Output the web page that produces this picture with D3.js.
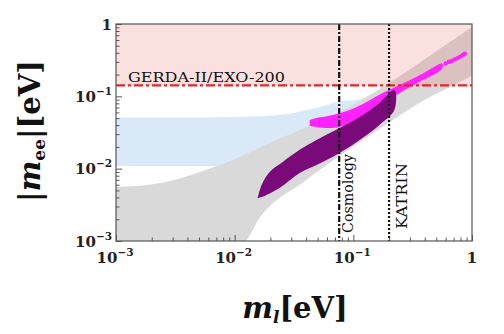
<!DOCTYPE html>
<html>
<head>
<meta charset="utf-8">
<script src="https://cdn.jsdelivr.net/npm/d3@7"></script>
<style>
  body { margin: 0; background: #fff; }
</style>
</head>
<body>
<div id="grafica"></div>
<script>
// ==============================
// datos (m_l [eV], |m_ee| [eV])
// ==============================
const decadas = [1e-3, 1e-2, 1e-1, 1];
const etiquetasDecada = [["10", "−3"], ["10", "−2"], ["10", "−1"], ["1", ""]];

const limiteGerda = 0.142;   // GERDA-II/EXO-200
const mCosmologia = 0.076;
const mKatrin = 0.2;

// banda gris (superior de izquierda a derecha, inferior de derecha a izquierda)
const grisSup = [[0.0007, 0.0056], [0.001, 0.0056], [0.0016, 0.0058], [0.0023, 0.0063], [0.0035, 0.0074],
  [0.0051, 0.009], [0.0075, 0.0112], [0.011, 0.0145], [0.0197, 0.0226], [0.0353, 0.0343],
  [0.0766, 0.0608], [0.166, 0.1265], [0.36, 0.29], [1, 0.91], [1.3, 1.2]];
const grisInf = [[1.3, 0.25], [0.95, 0.185], [0.36, 0.081], [0.176, 0.0378], [0.0929, 0.0187],
  [0.052, 0.0096], [0.0353, 0.006], [0.0226, 0.0037], [0.0169, 0.0023], [0.0139, 0.00133],
  [0.0126, 0.001], [0.012, 0.0008], [0.0007, 0.0008]];

// banda azul
const azulSup = [[0.0007, 0.051], [0.005, 0.051], [0.01, 0.052], [0.02, 0.054], [0.03, 0.058],
  [0.04, 0.064], [0.05, 0.07], [0.065, 0.079], [0.08, 0.086], [0.1, 0.088], [0.15, 0.1],
  [0.3, 0.2], [1, 0.6]];
const azulInf = [[1, 0.3], [0.3, 0.1], [0.1, 0.03], [0.05, 0.018], [0.02, 0.012], [0.012, 0.011],
  [0.0007, 0.011]];

// región morada
const moradoSup = [[0.0156, 0.0039], [0.0169, 0.006], [0.0197, 0.009], [0.0254, 0.0124], [0.0353, 0.0182],
  [0.049, 0.0249], [0.0766, 0.0366], [0.113, 0.052], [0.166, 0.081], [0.222, 0.1225]];
const moradoInf = [[0.222, 0.065], [0.166, 0.0402], [0.113, 0.0249], [0.0766, 0.0165], [0.049, 0.0112],
  [0.0353, 0.0087], [0.0239, 0.0054], [0.0179, 0.0042]];

// región magenta
const magentaSup = [[0.0429, 0.0472], [0.049, 0.0502], [0.0668, 0.0553], [0.0929, 0.0649], [0.129, 0.0838],
  [0.176, 0.111], [0.245, 0.144], [0.34, 0.185], [0.463, 0.247], [0.56, 0.285]];
const magentaInf = [[0.56, 0.24], [0.36, 0.158], [0.245, 0.111], [0.183, 0.081], [0.137, 0.0589],
  [0.102, 0.0457], [0.0766, 0.0378], [0.0573, 0.0366], [0.0429, 0.039]];
const magentaPuntos = [[0.6, 0.285], [0.64, 0.3], [0.68, 0.31], [0.72, 0.325], [0.76, 0.34],
  [0.8, 0.355], [0.84, 0.375], [0.87, 0.39]];

// ==============================
// configuración
// ==============================
const ANCHO = 504, ALTO = 334;
const margen = { izq: 116, der: 32, sup: 24, inf: 93 };
const fuente = "'DejaVu Serif', serif";

const svg = d3.select("#grafica").append("svg")
  .attr("width", ANCHO)
  .attr("height", ALTO)
  .style("background-color", "#fff");

const x = d3.scaleLog().domain([1e-3, 1]).range([margen.izq, ANCHO - margen.der]);
const y = d3.scaleLog().domain([1e-3, 1]).range([ALTO - margen.inf, margen.sup]);

svg.append("defs").append("clipPath").attr("id", "recorte")
  .append("rect")
  .attr("x", x.range()[0]).attr("y", y.range()[1])
  .attr("width", x.range()[1] - x.range()[0])
  .attr("height", y.range()[0] - y.range()[1]);

const g = svg.append("g").attr("clip-path", "url(#recorte)");

const linea = d3.line()
  .x(d => x(d[0])).y(d => y(d[1]))
  .curve(d3.curveCatmullRom.alpha(0.5));
const poligono = (sup, inf) => linea(sup.concat(inf)) + "Z";

// bandas
g.append("path").attr("d", poligono(azulSup, azulInf)).attr("fill", "#d9e9f8");
g.append("path").attr("d", poligono(grisSup, grisInf)).attr("fill", "#d9d9d9");

// región excluida (rosa translúcido)
g.append("rect")
  .attr("x", x(1e-3)).attr("y", y(1))
  .attr("width", x(1) - x(1e-3))
  .attr("height", y(limiteGerda) - y(1))
  .attr("fill", "rgb(235,100,100)")
  .attr("fill-opacity", 0.2);

// puntos
g.append("path").attr("d", poligono(magentaSup, magentaInf)).attr("fill", "#ff22ff");
g.selectAll(".punto").data(magentaPuntos).enter().append("circle")
  .attr("class", "punto")
  .attr("cx", d => x(d[0])).attr("cy", d => y(d[1]))
  .attr("r", 2.2).attr("fill", "#ff22ff");
g.append("path").attr("d", poligono(moradoSup, moradoInf)).attr("fill", "#7a0a7a");

// límites
g.append("line")
  .attr("x1", x(1e-3)).attr("x2", x(1))
  .attr("y1", y(limiteGerda)).attr("y2", y(limiteGerda))
  .attr("stroke", "#e3262b").attr("stroke-width", 2.2)
  .attr("stroke-dasharray", "9,3,3,3");

g.append("line")
  .attr("x1", x(mCosmologia)).attr("x2", x(mCosmologia))
  .attr("y1", y(1)).attr("y2", y(1e-3))
  .attr("stroke", "#111").attr("stroke-width", 2.2)
  .attr("stroke-dasharray", "6,2,2,2");

g.append("line")
  .attr("x1", x(mKatrin)).attr("x2", x(mKatrin))
  .attr("y1", y(1)).attr("y2", y(1e-3))
  .attr("stroke", "#111").attr("stroke-width", 2.2)
  .attr("stroke-dasharray", "2,2");

// textos de los límites
svg.append("text")
  .attr("x", 128).attr("y", y(limiteGerda) - 3.5)
  .attr("font-family", fuente).attr("font-size", 13)
  .attr("textLength", 157).attr("lengthAdjust", "spacingAndGlyphs")
  .attr("fill", "#111")
  .text("GERDA-II/EXO-200");

svg.append("text")
  .attr("transform", `translate(${x(mCosmologia) + 14},${y(1e-3) - 8}) rotate(-90)`)
  .attr("font-family", fuente).attr("font-size", 14)
  .attr("textLength", 79).attr("lengthAdjust", "spacingAndGlyphs")
  .attr("fill", "#111")
  .text("Cosmology");

svg.append("text")
  .attr("transform", `translate(${x(mKatrin) + 18},${y(1e-3) - 12}) rotate(-90)`)
  .attr("font-family", fuente).attr("font-size", 14)
  .attr("textLength", 66).attr("lengthAdjust", "spacingAndGlyphs")
  .attr("fill", "#111")
  .text("KATRIN");

// ==============================
// ejes
// ==============================
const menores = [];
decadas.slice(0, -1).forEach(d => { for (let k = 2; k <= 9; k++) menores.push(d * k); });

const ejeY = svg.append("g").attr("transform", `translate(${margen.izq},0)`);
ejeY.append("g").call(d3.axisLeft(y).tickValues(menores).tickSize(-3.5).tickFormat(""));
ejeY.append("g").call(d3.axisLeft(y).tickValues(decadas).tickSize(-6).tickFormat(""));

const ejeX = svg.append("g").attr("transform", `translate(0,${ALTO - margen.inf})`);
ejeX.append("g").call(d3.axisBottom(x).tickValues(menores).tickSize(-3.5).tickFormat(""));
ejeX.append("g").call(d3.axisBottom(x).tickValues(decadas).tickSize(-6).tickFormat(""));

svg.selectAll(".domain").remove();
svg.selectAll(".tick line").attr("stroke", "#555");

// marco
svg.append("rect")
  .attr("x", x.range()[0]).attr("y", y.range()[1])
  .attr("width", x.range()[1] - x.range()[0])
  .attr("height", y.range()[0] - y.range()[1])
  .attr("fill", "none").attr("stroke", "#555").attr("stroke-width", 1.2);

// etiquetas de las décadas
function etiqueta(sel, par) {
  sel.append("tspan").text(par[0]);
  if (par[1]) sel.append("tspan").attr("dy", -7).attr("font-size", 10.5).text(par[1]);
}

decadas.forEach((d, i) => {
  const t = svg.append("text")
    .attr("x", 112).attr("y", y(d) + 5.5)
    .attr("text-anchor", "end")
    .attr("font-family", fuente).attr("font-weight", "bold").attr("font-size", 15)
    .attr("fill", "#222");
  etiqueta(t, etiquetasDecada[i]);

  const u = svg.append("text")
    .attr("x", x(d) + (etiquetasDecada[i][1] ? -1 : 0)).attr("y", 263)
    .attr("text-anchor", "middle")
    .attr("font-family", fuente).attr("font-weight", "bold").attr("font-size", 15)
    .attr("fill", "#222");
  etiqueta(u, etiquetasDecada[i]);
});

// títulos
const tituloX = svg.append("text")
  .attr("x", 295).attr("y", 318)
  .attr("text-anchor", "middle")
  .attr("font-family", fuente).attr("font-weight", "bold").attr("font-size", 29)
  .attr("fill", "#111");
tituloX.append("tspan").attr("font-style", "italic").text("m");
tituloX.append("tspan").attr("font-style", "italic").attr("font-size", 17).attr("dy", 5).text("l");
tituloX.append("tspan").attr("dy", -5).text("[eV]");

const tituloY = svg.append("text")
  .attr("transform", "translate(40,131) rotate(-90)")
  .attr("text-anchor", "middle")
  .attr("font-family", fuente).attr("font-weight", "bold").attr("font-size", 29)
  .attr("fill", "#111");
tituloY.append("tspan").text("|");
tituloY.append("tspan").attr("font-style", "italic").text("m");
tituloY.append("tspan").attr("font-size", 17).attr("dy", 5).text("ee");
tituloY.append("tspan").attr("dy", -5).text("|[eV]");
</script>
</body>
</html>
